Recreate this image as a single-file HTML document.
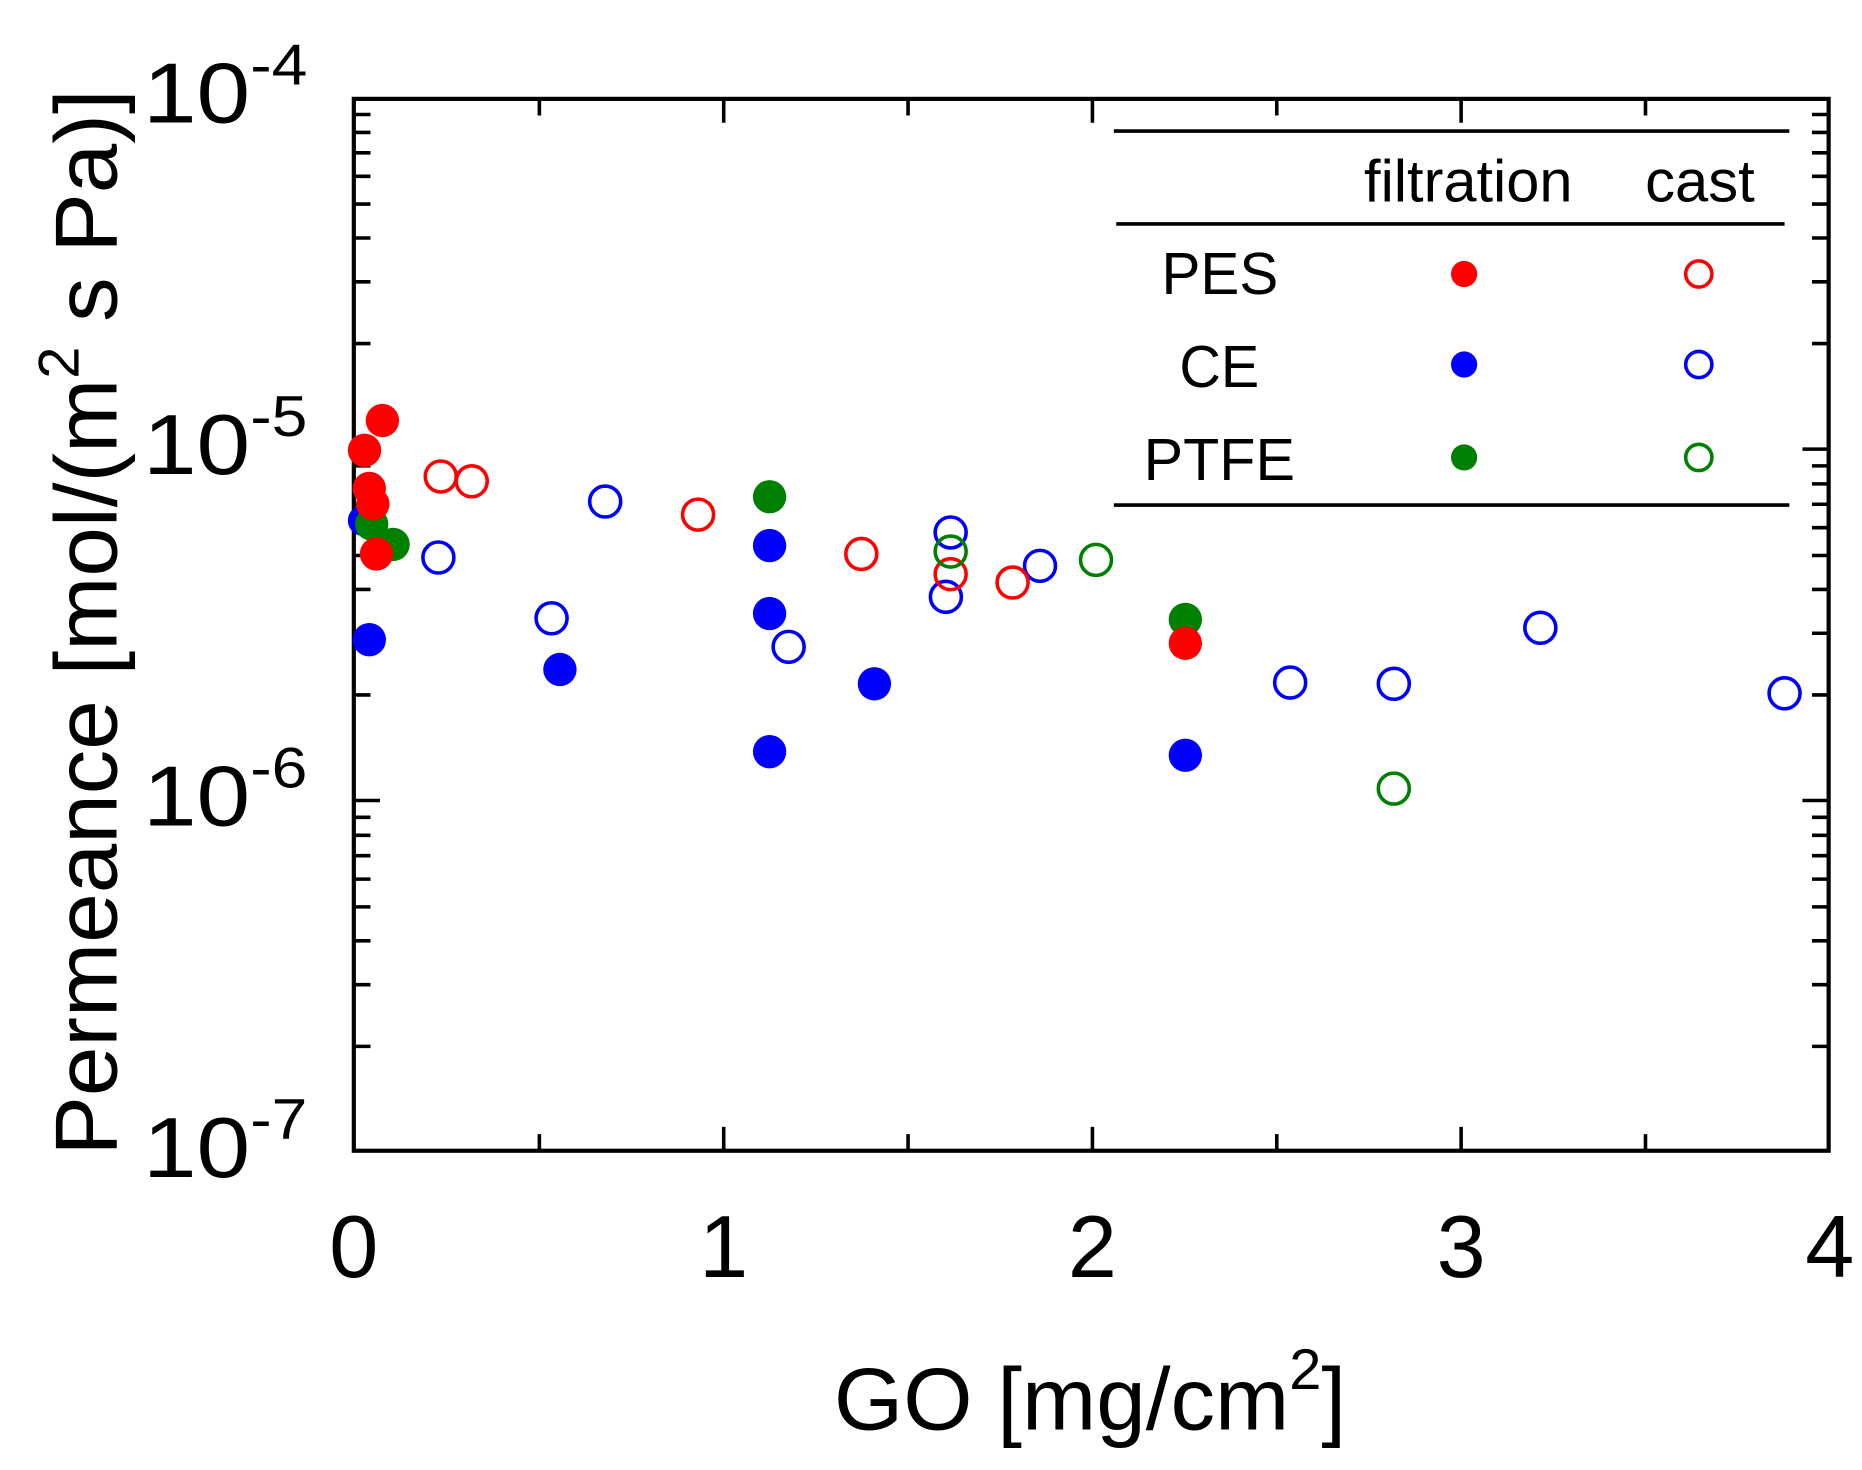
<!DOCTYPE html>
<html><head><meta charset="utf-8"><style>
html,body{margin:0;padding:0;background:#fff;}
svg{display:block;}
text{font-family:"Liberation Sans",Arial,sans-serif;fill:#000;}
</style></head><body>
<svg width="1862" height="1470" viewBox="0 0 1563 1234" preserveAspectRatio="none" xmlns="http://www.w3.org/2000/svg">
<rect x="0" y="0" width="1563" height="1234" fill="#fff"/>
<g stroke="#000" stroke-width="3.5" fill="none">
<rect x="297" y="83" width="1238" height="883"/>
</g>
<g stroke="#000" stroke-width="3">
<path d="M452.75 966v-14M607.5 966v-20M762.25 966v-14M917 966v-20M1071.75 966v-14M1226.5 966v-20M1381.25 966v-14"/>
<path d="M452.75 83v14M607.5 83v20M762.25 83v14M917 83v20M1071.75 83v14M1226.5 83v20M1381.25 83v14"/>
<path d="M297 377h22M297 672h22M1535 377h-22M1535 672h-22"/>
<path d="M297 878.4h14M297 826.6h14M297 789.8h14M297 761.3h14M297 738h14M297 718.3h14M297 701.2h14M297 686.1h14
M297 583.4h14M297 531.6h14M297 494.8h14M297 466.3h14M297 443h14M297 423.3h14M297 406.2h14M297 391.1h14
M297 288.4h14M297 236.6h14M297 199.8h14M297 171.3h14M297 148h14M297 128.3h14M297 111.2h14M297 96.1h14
M1535 878.4h-14M1535 826.6h-14M1535 789.8h-14M1535 761.3h-14M1535 738h-14M1535 718.3h-14M1535 701.2h-14M1535 686.1h-14
M1535 583.4h-14M1535 531.6h-14M1535 494.8h-14M1535 466.3h-14M1535 443h-14M1535 423.3h-14M1535 406.2h-14M1535 391.1h-14
M1535 288.4h-14M1535 236.6h-14M1535 199.8h-14M1535 171.3h-14M1535 148h-14M1535 128.3h-14M1535 111.2h-14M1535 96.1h-14"/>
</g>
<g font-size="72">
<text x="120" y="103" textLength="138" lengthAdjust="spacingAndGlyphs">10<tspan dy="-32" font-size="48">-4</tspan></text>
<text x="120" y="398" textLength="138" lengthAdjust="spacingAndGlyphs">10<tspan dy="-32" font-size="48">-5</tspan></text>
<text x="120" y="693" textLength="138" lengthAdjust="spacingAndGlyphs">10<tspan dy="-32" font-size="48">-6</tspan></text>
<text x="120" y="988" textLength="138" lengthAdjust="spacingAndGlyphs">10<tspan dy="-32" font-size="48">-7</tspan></text>
</g>
<g font-size="74" text-anchor="middle">
<text x="297" y="1072">0</text><text x="607.5" y="1072">1</text><text x="917" y="1072">2</text><text x="1226.5" y="1072">3</text><text x="1536" y="1072">4</text>
</g>
<text x="700" y="1200" font-size="74" textLength="430" lengthAdjust="spacingAndGlyphs">GO [mg/cm<tspan dy="-34" font-size="48">2</tspan><tspan dy="34">]</tspan></text>
<text transform="translate(98,970) rotate(-90)" x="0" y="0" font-size="74" textLength="895" lengthAdjust="spacingAndGlyphs">Permeance [mol/(m<tspan dy="-32" font-size="48">2</tspan><tspan dy="32"> s Pa)]</tspan></text>
<g stroke="#000" stroke-width="3">
<path d="M935 110h567M937 188h561M935 424h567"/>
</g>
<g font-size="50">
<text x="1145" y="169" textLength="175" lengthAdjust="spacingAndGlyphs">filtration</text>
<text x="1381" y="169" textLength="92" lengthAdjust="spacingAndGlyphs">cast</text>
<text x="975" y="247" textLength="98" lengthAdjust="spacingAndGlyphs">PES</text>
<text x="990" y="325" textLength="67" lengthAdjust="spacingAndGlyphs">CE</text>
<text x="960" y="403" textLength="127" lengthAdjust="spacingAndGlyphs">PTFE</text>
</g>
<circle cx="1229" cy="230" r="11" fill="#f00"/><circle cx="1426" cy="230" r="11" fill="none" stroke="#f00" stroke-width="3"/>
<circle cx="1229" cy="306" r="11" fill="#00f"/><circle cx="1426" cy="306" r="11" fill="none" stroke="#00f" stroke-width="3"/>
<circle cx="1229" cy="384" r="11" fill="#008000"/><circle cx="1426" cy="384" r="11" fill="none" stroke="#008000" stroke-width="3"/>
<g fill="none" stroke-width="3">
<g stroke="#00f">
<circle cx="368" cy="468" r="13"/><circle cx="463" cy="519" r="13"/><circle cx="508" cy="421" r="13"/><circle cx="662" cy="543" r="13"/><circle cx="798" cy="447" r="13"/><circle cx="794" cy="501" r="13"/><circle cx="873" cy="475" r="13"/><circle cx="1083" cy="573" r="13"/><circle cx="1170" cy="574" r="13"/><circle cx="1293" cy="527" r="13"/><circle cx="1498" cy="582" r="13"/>
</g>
<g stroke="#f00">
<circle cx="370" cy="400" r="13"/><circle cx="396" cy="404" r="13"/><circle cx="586" cy="432" r="13"/><circle cx="723" cy="465" r="13"/><circle cx="798" cy="482" r="13"/><circle cx="850" cy="489" r="13"/>
</g>
<g stroke="#008000">
<circle cx="798" cy="463" r="13"/><circle cx="920" cy="470" r="13"/><circle cx="1170" cy="662" r="13"/>
</g>
</g>
<g fill="#00f">
<circle cx="305" cy="437" r="13"/><circle cx="310" cy="537" r="14"/><circle cx="470" cy="562" r="14"/><circle cx="646" cy="458" r="14"/><circle cx="646" cy="515" r="14"/><circle cx="646" cy="631" r="14"/><circle cx="734" cy="574" r="14"/><circle cx="995" cy="634" r="14"/>
</g>
<g fill="#008000">
<circle cx="312" cy="440" r="14"/><circle cx="330" cy="457" r="14"/><circle cx="646" cy="417" r="14"/><circle cx="995" cy="520" r="14"/>
</g>
<g fill="#f00">
<circle cx="321" cy="353" r="14"/><circle cx="306" cy="378" r="14"/><circle cx="310" cy="410" r="14"/><circle cx="313" cy="423" r="14"/><circle cx="316" cy="465" r="14"/><circle cx="995" cy="540" r="14"/>
</g>
</svg>
</body></html>
